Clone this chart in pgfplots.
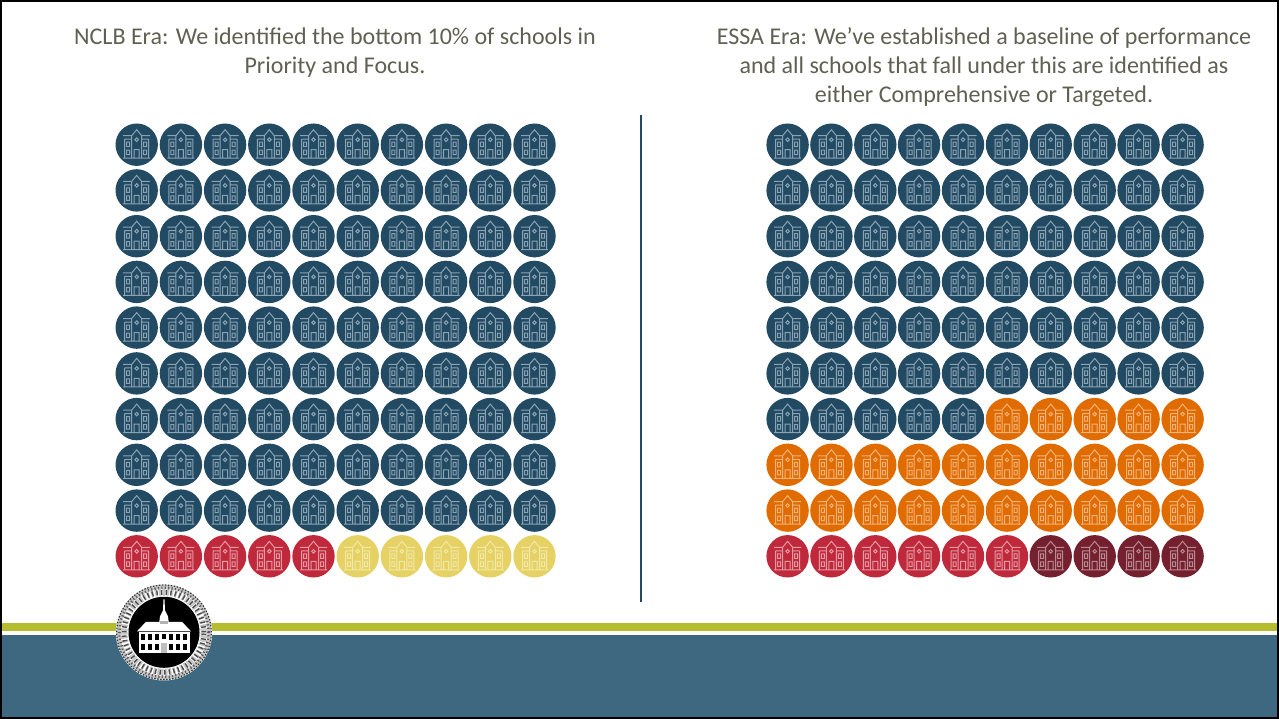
\documentclass[border=0pt]{standalone}
\usepackage{pgfplots}
\pgfplotsset{compat=1.18}
\usepackage{fontspec}
\setmainfont{Carlito}
\definecolor{navy}{HTML}{234A63}
\definecolor{navyline}{HTML}{8AA3B4}
\definecolor{crimson}{HTML}{C0293B}
\definecolor{crimsonline}{HTML}{E39AA3}
\definecolor{straw}{HTML}{E6D264}
\definecolor{strawline}{HTML}{F2E8A8}
\definecolor{amber}{HTML}{E06C00}
\definecolor{amberline}{HTML}{F2B27A}
\definecolor{wine}{HTML}{74202F}
\definecolor{wineline}{HTML}{B98A92}
\definecolor{band}{HTML}{3D6880}
\definecolor{rule}{HTML}{B5BD2E}
\definecolor{captiontext}{HTML}{5F5F52}
% One school: a filled disc with the outline of a building on it
\pgfdeclareplotmark{school}{%
  \pgfpathcircle{\pgfpointorigin}{21.2pt}\pgfusepathqfill
  \pgfsetlinewidth{1pt}%
  % base, cornices and wing walls
  \pgfpathmoveto{\pgfpoint{-13.5pt}{-13.5pt}}\pgfpathlineto{\pgfpoint{13.5pt}{-13.5pt}}%
  \pgfpathmoveto{\pgfpoint{-13.5pt}{9pt}}\pgfpathlineto{\pgfpoint{-5pt}{9pt}}%
  \pgfpathmoveto{\pgfpoint{5pt}{9pt}}\pgfpathlineto{\pgfpoint{13.5pt}{9pt}}%
  \pgfpathmoveto{\pgfpoint{-12pt}{5.5pt}}\pgfpathlineto{\pgfpoint{-5pt}{5.5pt}}%
  \pgfpathmoveto{\pgfpoint{5pt}{5.5pt}}\pgfpathlineto{\pgfpoint{12pt}{5.5pt}}%
  \pgfpathmoveto{\pgfpoint{-12pt}{5.5pt}}\pgfpathlineto{\pgfpoint{-12pt}{-13.5pt}}%
  \pgfpathmoveto{\pgfpoint{12pt}{5.5pt}}\pgfpathlineto{\pgfpoint{12pt}{-13.5pt}}%
  % central tower
  \pgfpathmoveto{\pgfpoint{-5pt}{-13.5pt}}\pgfpathlineto{\pgfpoint{-5pt}{9pt}}%
  \pgfpathlineto{\pgfpoint{0pt}{15pt}}\pgfpathlineto{\pgfpoint{5pt}{9pt}}%
  \pgfpathlineto{\pgfpoint{5pt}{-13.5pt}}%
  % door
  \pgfpathmoveto{\pgfpoint{-2.5pt}{-13.5pt}}\pgfpathlineto{\pgfpoint{-2.5pt}{-5pt}}%
  \pgfpathlineto{\pgfpoint{2.5pt}{-5pt}}\pgfpathlineto{\pgfpoint{2.5pt}{-13.5pt}}%
  % tower window
  \pgfpathcircle{\pgfpoint{0pt}{5pt}}{1.8pt}%
  % wing windows
  \pgfpathrectangle{\pgfpoint{-10pt}{-2pt}}{\pgfpoint{3pt}{4.5pt}}%
  \pgfpathrectangle{\pgfpoint{7pt}{-2pt}}{\pgfpoint{3pt}{4.5pt}}%
  \pgfpathrectangle{\pgfpoint{-10pt}{-10pt}}{\pgfpoint{3pt}{4.5pt}}%
  \pgfpathrectangle{\pgfpoint{7pt}{-10pt}}{\pgfpoint{3pt}{4.5pt}}%
  \pgfusepathqstroke
}
\pgfplotsset{schools/.style 2 args={only marks, mark=school,
  mark options={draw=#2, fill=#1, solid}}}
\begin{document}
\begin{tikzpicture}
\begin{axis}[
  scale only axis, width=1279pt, height=719pt,
  xmin=0, xmax=1279, ymin=0, ymax=719, y dir=reverse,
  hide axis, clip=false, anchor=south west, at={(0,0)}]
% slide furniture
\fill[rule] (axis cs:2,623) rectangle (axis cs:1277,631);
\fill[band] (axis cs:2,635) rectangle (axis cs:1277,717);
\draw[navy, line width=1.3pt] (axis cs:641,115) -- (axis cs:641,602);
\draw[black, line width=2pt] (axis cs:1,1) rectangle (axis cs:1278,718);
% headings
\node[text=captiontext, font=\fontsize{24}{29}\selectfont, align=center, anchor=north]
  at (axis cs:335,24) {NCLB Era: We identified the bottom 10\% of schools in\\Priority and Focus.};
\node[text=captiontext, font=\fontsize{24}{29}\selectfont, align=center, anchor=north]
  at (axis cs:984,24) {ESSA Era: We’ve established a baseline of performance\\and all schools that fall under this are identified as\\either Comprehensive or Targeted.};
% NCLB era
\addplot[schools={navy}{navyline}] coordinates {
(136.7,144.7)(180.9,144.7)(225.1,144.7)(269.3,144.7)(313.5,144.7)(357.7,144.7)(401.9,144.7)(446.1,144.7)(490.3,144.7)(534.5,144.7)
(136.7,190.4)(180.9,190.4)(225.1,190.4)(269.3,190.4)(313.5,190.4)(357.7,190.4)(401.9,190.4)(446.1,190.4)(490.3,190.4)(534.5,190.4)
(136.7,236.2)(180.9,236.2)(225.1,236.2)(269.3,236.2)(313.5,236.2)(357.7,236.2)(401.9,236.2)(446.1,236.2)(490.3,236.2)(534.5,236.2)
(136.7,281.9)(180.9,281.9)(225.1,281.9)(269.3,281.9)(313.5,281.9)(357.7,281.9)(401.9,281.9)(446.1,281.9)(490.3,281.9)(534.5,281.9)
(136.7,327.6)(180.9,327.6)(225.1,327.6)(269.3,327.6)(313.5,327.6)(357.7,327.6)(401.9,327.6)(446.1,327.6)(490.3,327.6)(534.5,327.6)
(136.7,373.4)(180.9,373.4)(225.1,373.4)(269.3,373.4)(313.5,373.4)(357.7,373.4)(401.9,373.4)(446.1,373.4)(490.3,373.4)(534.5,373.4)
(136.7,419.1)(180.9,419.1)(225.1,419.1)(269.3,419.1)(313.5,419.1)(357.7,419.1)(401.9,419.1)(446.1,419.1)(490.3,419.1)(534.5,419.1)
(136.7,464.8)(180.9,464.8)(225.1,464.8)(269.3,464.8)(313.5,464.8)(357.7,464.8)(401.9,464.8)(446.1,464.8)(490.3,464.8)(534.5,464.8)
(136.7,510.6)(180.9,510.6)(225.1,510.6)(269.3,510.6)(313.5,510.6)(357.7,510.6)(401.9,510.6)(446.1,510.6)(490.3,510.6)(534.5,510.6)
};
\addplot[schools={crimson}{crimsonline}] coordinates {
(136.7,556.3)(180.9,556.3)(225.1,556.3)(269.3,556.3)(313.5,556.3)
};
\addplot[schools={straw}{strawline}] coordinates {
(357.7,556.3)(401.9,556.3)(446.1,556.3)(490.3,556.3)(534.5,556.3)
};
% ESSA era
\addplot[schools={navy}{navyline}] coordinates {
(787.6,144.7)(831.4,144.7)(875.3,144.7)(919.1,144.7)(963,144.7)(1007,144.7)(1050.7,144.7)(1094.7,144.7)(1138.6,144.7)(1182.6,144.7)
(787.6,190.4)(831.4,190.4)(875.3,190.4)(919.1,190.4)(963,190.4)(1007,190.4)(1050.7,190.4)(1094.7,190.4)(1138.6,190.4)(1182.6,190.4)
(787.6,236.2)(831.4,236.2)(875.3,236.2)(919.1,236.2)(963,236.2)(1007,236.2)(1050.7,236.2)(1094.7,236.2)(1138.6,236.2)(1182.6,236.2)
(787.6,281.9)(831.4,281.9)(875.3,281.9)(919.1,281.9)(963,281.9)(1007,281.9)(1050.7,281.9)(1094.7,281.9)(1138.6,281.9)(1182.6,281.9)
(787.6,327.6)(831.4,327.6)(875.3,327.6)(919.1,327.6)(963,327.6)(1007,327.6)(1050.7,327.6)(1094.7,327.6)(1138.6,327.6)(1182.6,327.6)
(787.6,373.4)(831.4,373.4)(875.3,373.4)(919.1,373.4)(963,373.4)(1007,373.4)(1050.7,373.4)(1094.7,373.4)(1138.6,373.4)(1182.6,373.4)
(787.6,419.1)(831.4,419.1)(875.3,419.1)(919.1,419.1)(963,419.1)
};
\addplot[schools={amber}{amberline}] coordinates {
(1007,419.1)(1050.7,419.1)(1094.7,419.1)(1138.6,419.1)(1182.6,419.1)
(787.6,464.8)(831.4,464.8)(875.3,464.8)(919.1,464.8)(963,464.8)(1007,464.8)(1050.7,464.8)(1094.7,464.8)(1138.6,464.8)(1182.6,464.8)
(787.6,510.6)(831.4,510.6)(875.3,510.6)(919.1,510.6)(963,510.6)(1007,510.6)(1050.7,510.6)(1094.7,510.6)(1138.6,510.6)(1182.6,510.6)
};
\addplot[schools={crimson}{crimsonline}] coordinates {
(787.6,556.3)(831.4,556.3)(875.3,556.3)(919.1,556.3)(963,556.3)(1007,556.3)
};
\addplot[schools={wine}{wineline}] coordinates {
(1050.7,556.3)(1094.7,556.3)(1138.6,556.3)(1182.6,556.3)
};
\end{axis}
% seal with the school building
\begin{scope}[shift={(164pt,86.7pt)}, x=1pt, y=1pt]
  \fill[white] (0,0) circle (48.2pt);
  \fill[black!22] (0,0) circle (47.5pt);
  \draw[black!80, line width=1.2pt, dash pattern=on 1.5pt off 1.5pt] (0,0) circle (47.3pt);
  \draw[black!65, line width=2.6pt, dash pattern=on 1.2pt off 2.2pt] (0,0) circle (44.5pt);
  \draw[white, line width=7pt, dash pattern=on 1.6pt off 2.4pt] (0,0) circle (40pt);
  \draw[black!70, line width=5pt, dash pattern=on 1.4pt off 3.2pt] (0,0) circle (40pt);
  \draw[white, line width=1pt] (0,0) circle (36pt);
  \fill[black] (0,0) circle (35.5pt);
  % spire and cupola
  \fill[white] (-5,8) -- (-4,16) -- (-1,22) -- (-.5,33) -- (.5,33) -- (1,22) -- (4,16) -- (5,8) -- cycle;
  % roof
  \fill[white] (-27,1) -- (-18,10.5) -- (18,10.5) -- (27,1) -- cycle;
  % walls
  \fill[white] (-25,-21) rectangle (26,1);
  \fill[black!70] (-26,0) rectangle (26,1);
  % windows
  \foreach \x in {-21,-14,-7,7,14,21}{
    \fill[black] (\x-1.7,-8) rectangle (\x+1.7,-2);
    \fill[black] (\x-1.7,-18) rectangle (\x+1.7,-12);
  }
  \fill[black] (-1.7,-7) rectangle (1.7,-2);
  \fill[black!25] (-3,-21) rectangle (3,-11);
  \fill[black!30] (-4,8) rectangle (4,11);
\end{scope}
\end{tikzpicture}
\end{document}
